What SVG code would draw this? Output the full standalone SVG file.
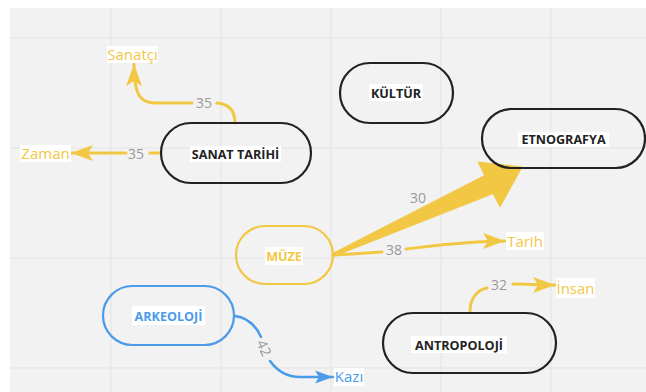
<svg xmlns="http://www.w3.org/2000/svg" width="646" height="392" viewBox="0 0 646 392">
<defs>
<style>
.node{fill:none;stroke-width:2.2}
.blk{stroke:#222}
.nt{font-family:"Open Sans","Liberation Sans",sans-serif;font-weight:bold;font-size:12.6px;text-anchor:middle}
.bg{fill:#ffffff}
.el{font-family:"Open Sans","Liberation Sans",sans-serif;font-size:15px;text-anchor:middle}
.num{font-family:"Open Sans","Liberation Sans",sans-serif;font-size:14px;fill:#999;text-anchor:middle}
.y{stroke:#F2C744;fill:none;stroke-width:3;stroke-linecap:round}
.b{stroke:#4A9BE8;fill:none;stroke-width:2.5;stroke-linecap:round}
.grid{stroke:#e3e3e3;stroke-width:1}
</style>
<marker id="ay" markerUnits="userSpaceOnUse" markerWidth="24" markerHeight="18" viewBox="0 0 24 18" refX="22" refY="9" orient="auto">
<path d="M0,1 L22,9 L0,17 L5,9 Z" fill="#F2C744"/>
</marker>
<marker id="ab" markerUnits="userSpaceOnUse" markerWidth="20" markerHeight="16" viewBox="0 0 20 16" refX="18" refY="8" orient="auto">
<path d="M0,1.5 L18,8 L0,14.5 L4,8 Z" fill="#4A9BE8"/>
</marker>
</defs>
<rect x="0" y="0" width="646" height="392" fill="#ffffff"/>
<rect x="10" y="8" width="636" height="384" fill="#f2f2f2"/>
<g id="grid">
<line class="grid" x1="111" y1="8" x2="111" y2="392"/>
<line class="grid" x1="221" y1="8" x2="221" y2="392"/>
<line class="grid" x1="331" y1="8" x2="331" y2="392"/>
<line class="grid" x1="441" y1="8" x2="441" y2="392"/>
<line class="grid" x1="551" y1="8" x2="551" y2="392"/>
<line class="grid" x1="10" y1="38" x2="646" y2="38"/>
<line class="grid" x1="10" y1="148" x2="646" y2="148"/>
<line class="grid" x1="10" y1="258" x2="646" y2="258"/>
<line class="grid" x1="10" y1="368" x2="646" y2="368"/>
</g>
<g id="connectors">
<path class="y" d="M235,123 C235,111 229,104 217,103"/>
<path class="y" marker-end="url(#ay)" d="M192,103 L155,103 C141,103 134,96 134,64"/>
<text class="num" x="204" y="107.5">35</text>
<path class="y" d="M161,153 L150,153"/>
<path class="y" marker-end="url(#ay)" d="M126,153 L71,153"/>
<text class="num" x="136" y="158.5">35</text>
<polygon fill="#F2C744" stroke="#F2C744" stroke-width="1" stroke-linejoin="round" points="332.4,253.6 484.8,175.4 478,162 522,167 500,207 493.2,193.6 333.6,256.4"/>
<text class="num" x="418" y="203">30</text>
<path class="y" d="M333,255 C350,254 368,253 382,252"/>
<path class="y" marker-end="url(#ay)" d="M406,249 C440,245 470,241 505,241"/>
<text class="num" x="394" y="255">38</text>
<path class="y" d="M470,312 C470,300 476,290 487,288"/>
<path class="y" marker-end="url(#ay)" d="M513,284 C525,284 540,285 555,285"/>
<text class="num" x="499" y="290">32</text>
<path class="b" d="M235,316 C250,318 257,328 261,337"/>
<path class="b" marker-end="url(#ab)" d="M270,361 C278,372 288,377 300,377 L333,377"/>
<text class="num" transform="translate(264,348) rotate(67)" x="0" y="5">42</text>
</g>
<g id="sanatci">
<rect class="bg" x="107" y="46" width="51" height="17"/>
<text class="el" x="132.5" y="59.5" fill="#F2C744">Sanatçı</text>
</g>
<g id="zaman">
<rect class="bg" x="20" y="145" width="51" height="17"/>
<text class="el" x="45.5" y="158.5" fill="#F2C744">Zaman</text>
</g>
<g id="tarih">
<rect class="bg" x="506" y="232" width="38" height="18"/>
<text class="el" x="525" y="246.5" fill="#F2C744">Tarih</text>
</g>
<g id="insan">
<rect class="bg" x="556" y="278" width="39" height="20"/>
<text class="el" x="575.5" y="293.5" fill="#F2C744">İnsan</text>
</g>
<g id="kazi">
<rect class="bg" x="334" y="368" width="30" height="18"/>
<text class="el" x="349" y="382" fill="#4A9BE8">Kazı</text>
</g>
<g id="sanat-tarihi">
<rect class="node blk" x="161" y="123" width="150" height="60" rx="30"/>
<rect class="bg" x="190" y="146" width="91" height="16"/>
<text class="nt" x="235.5" y="158.5" fill="#222">SANAT TARİHİ</text>
</g>
<g id="kultur">
<rect class="node blk" x="340" y="63" width="113" height="60" rx="30"/>
<rect class="bg" x="369" y="84" width="54" height="17"/>
<text class="nt" x="396" y="97.5" fill="#222">KÜLTÜR</text>
</g>
<g id="etnografya">
<rect class="node blk" x="482" y="109" width="163" height="59" rx="29.5"/>
<rect class="bg" x="518" y="132" width="91" height="15"/>
<text class="nt" x="563.5" y="144" fill="#222">ETNOGRAFYA</text>
</g>
<g id="muze">
<rect class="node" stroke="#F2C744" x="236" y="226" width="97" height="58" rx="29"/>
<rect class="bg" x="265" y="247" width="38" height="18"/>
<text class="nt" x="284" y="261" fill="#F2C744">MÜZE</text>
</g>
<g id="arkeoloji">
<rect class="node" stroke="#4A9BE8" x="103" y="286" width="131" height="59" rx="29.5"/>
<rect class="bg" x="132" y="306" width="73" height="19"/>
<text class="nt" x="168.5" y="320.5" fill="#4A9BE8">ARKEOLOJİ</text>
</g>
<g id="antropoloji">
<rect class="node blk" x="383" y="313" width="173" height="60" rx="30"/>
<rect class="bg" x="411" y="336" width="96" height="17"/>
<text class="nt" x="459" y="349.5" fill="#222">ANTROPOLOJİ</text>
</g>
</svg>
